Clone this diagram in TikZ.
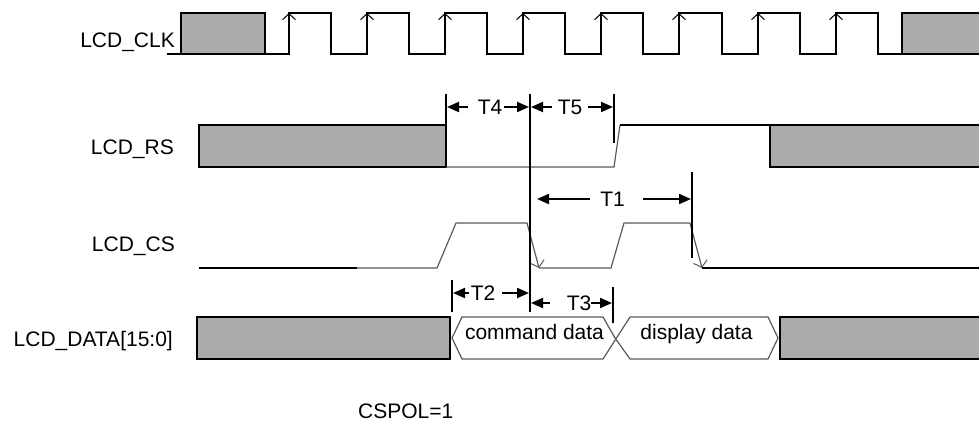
\documentclass[tikz,border=0pt]{standalone}
\usepackage{fontspec}
\setmainfont{Liberation Sans}
\usetikzlibrary{arrows.meta}
\begin{document}
\begin{tikzpicture}[x=1pt,y=-1pt,
  sig/.style={line width=2pt, line join=miter, draw=black},
  thinsig/.style={line width=1.2pt, draw=black!65},
  hatch/.style={fill=black!33},
  marker/.style={line width=2pt},
  dimarr/.style={line width=2pt, -{Triangle[length=12pt,width=10pt]}},
  clkedge/.style={-{Straight Barb[length=6pt,width=13pt,line width=1pt]}, line width=1pt},
  csedge/.style={-{Straight Barb[length=6pt,width=14pt,line width=1pt]}},
  lbl/.style={font=\fontsize{21}{25}\selectfont, inner sep=0pt},
]
\useasboundingbox (0,0) rectangle (979,428);

% ---------- labels ----------
\node[lbl, anchor=base east] (lclk) at (175,48) {LCD\_CLK};
\node[lbl, anchor=base east] (lrs) at (174,154) {LCD\_RS};
\node[lbl, anchor=base east] (lcs) at (175,251) {LCD\_CS};
\node[lbl, anchor=base east] (ldata) at (173,346) {LCD\_DATA[15:0]};
\node[lbl, anchor=base west] (cspol) at (358,418) {CSPOL=1};

% ---------- LCD_CLK ----------
\fill[hatch] (181,13) rectangle (265,54);
\fill[hatch] (902,13) rectangle (979,54);
\draw[sig] (167,54) -- (181,54) -- (181,13) -- (265,13) -- (265,54) -- (181,54);
\draw[sig] (265,54) -- (289,54)
  -- (289,13) -- (331,13) -- (331,54) -- (367,54)
  -- (367,13) -- (409,13) -- (409,54) -- (445,54)
  -- (445,13) -- (487,13) -- (487,54) -- (523,54)
  -- (523,13) -- (565,13) -- (565,54) -- (601,54)
  -- (601,13) -- (643,13) -- (643,54) -- (679,54)
  -- (679,13) -- (722,13) -- (722,54) -- (758,54)
  -- (758,13) -- (800,13) -- (800,54) -- (836,54)
  -- (836,13) -- (878,13) -- (878,54) -- (902,54) -- (979,54);
\draw[sig] (979,13) -- (902,13) -- (902,54);
\foreach \x in {289,367,445,523,601,679,758,836}
  \draw[clkedge] (\x,30) -- (\x,13);

% ---------- LCD_RS ----------
\fill[hatch] (199,125) rectangle (446,167);
\draw[sig] (199,125) rectangle (446,167);
\fill[hatch] (770,125) rectangle (979,167);
\draw[sig] (979,125) -- (770,125) -- (770,167) -- (979,167);
\draw[thinsig] (446,167) -- (614,167) -- (620,125);
\draw[sig] (620,125) -- (770,125);

% ---------- LCD_CS ----------
\draw[sig] (199,268) -- (357,268);
\draw[thinsig] (357,268) -- (437,268) -- (456,223) -- (527,223);
\draw[thinsig, csedge] (527,223) -- (539,268);
\draw[thinsig] (539,268) -- (611,268) -- (624,223) -- (690,223);
\draw[thinsig, csedge] (690,223) -- (702,268);
\draw[sig] (702,268) -- (979,268);

% ---------- LCD_DATA ----------
\fill[hatch] (197,317) rectangle (450,359);
\draw[sig] (197,317) rectangle (450,359);
\fill[hatch] (780,317) rectangle (979,359);
\draw[sig] (979,317) -- (780,317) -- (780,359) -- (979,359);
\draw[thinsig, line join=miter] (615,338) -- (603,317) -- (462,317) -- (452,338) -- (462,359)
  -- (603,359) -- (630,317) -- (768,317) -- (778,338) -- (768,359) -- (630,359) -- cycle;
\node[lbl, anchor=base] (cmd) at (534.5,339) {command data};
\node[lbl, anchor=base] (disp) at (696.5,339) {display data};

% ---------- timing markers ----------
\coordinate (m446t) at (446,94);  \coordinate (m446b) at (446,125);
\coordinate (m530t) at (530,94);  \coordinate (m530b) at (530,312);
\coordinate (m614t) at (614,94);  \coordinate (m614b) at (614,143);
\coordinate (m692t) at (692,172); \coordinate (m692b) at (692,258);
\coordinate (m452t) at (452,280); \coordinate (m452b) at (452,312);
\coordinate (m613t) at (613,287); \coordinate (m613b) at (613,323);
\foreach \a/\b in {m446t/m446b, m530t/m530b, m614t/m614b, m692t/m692b, m452t/m452b, m613t/m613b}
  \draw[marker] (\a) -- (\b);

% T4
\node[lbl] (t4) at (490,107) {T4};
\draw[dimarr] ([xshift=-10pt]t4.west) -- ([xshift=1pt]t4 -| m446t);
\draw[dimarr] ([xshift=2pt]t4.east) -- ([xshift=-1pt]t4 -| m530t);
% T5
\node[lbl] (t5) at (570,107) {T5};
\draw[dimarr] ([xshift=-6pt]t5.west) -- ([xshift=1pt]t5 -| m530t);
\draw[dimarr] ([xshift=6pt]t5.east) -- ([xshift=-1pt]t5 -| m614t);
% T1
\node[lbl] (t1) at (612.5,199) {T1};
\draw[dimarr] ([xshift=-10pt]t1.west) -- ([xshift=7pt]t1 -| m530t);
\draw[dimarr] ([xshift=18pt]t1.east) -- ([xshift=-1pt]t1 -| m692t);
% T2
\node[lbl] (t2) at (483,293) {T2};
\draw[dimarr] ([xshift=-2pt]t2.west) -- ([xshift=1pt]t2 -| m452t);
\draw[dimarr] ([xshift=7pt]t2.east) -- ([xshift=-1pt]t2 -| m530t);
% T3
\node[lbl] (t3) at (579,303) {T3};
\draw[dimarr] ([xshift=-17pt]t3.west) -- ([xshift=1pt]t3 -| m530t);
\draw[dimarr] ([xshift=0pt]t3.east) -- ([xshift=-1pt]t3 -| m613t);
\end{tikzpicture}
\end{document}
